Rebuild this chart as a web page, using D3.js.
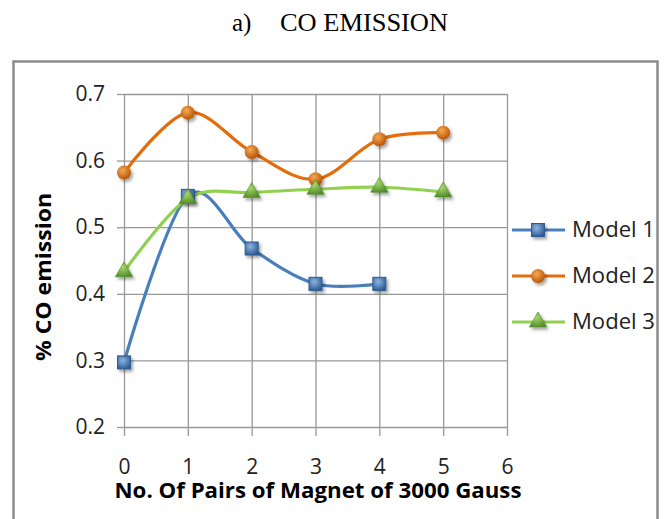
<!DOCTYPE html>
<html>
<head>
<meta charset="utf-8">
<script src="https://cdn.jsdelivr.net/npm/d3@7"></script>
<style>
  body { margin: 0; background: #fff; }
  svg { display: block; }
</style>
</head>
<body>
<div id="chart"></div>
<script>
// values
const pairs = [0, 1, 2, 3, 4, 5];
const xTicks = [0, 1, 2, 3, 4, 5, 6];
const yTicks = [0.2, 0.3, 0.4, 0.5, 0.6, 0.7];
const seriesNames = ["Model 1", "Model 2", "Model 3"];
const model1 = [0.297, 0.547, 0.468, 0.415, 0.415];
const model2 = [0.582, 0.672, 0.613, 0.572, 0.632, 0.642];
const model3 = [0.433, 0.543, 0.552, 0.557, 0.560, 0.553];

const W = 668, H = 519;
const plot = { left: 124, right: 507, top: 94, bottom: 427 };

const svg = d3.select("#chart").append("svg").attr("width", W).attr("height", H);
const defs = svg.append("defs");

defs.append("filter").attr("id", "shadow")
  .attr("x", "-50%").attr("y", "-50%").attr("width", "200%").attr("height", "200%")
  .append("feDropShadow")
  .attr("dx", 2).attr("dy", 2.5).attr("stdDeviation", 1.6)
  .attr("flood-color", "#000").attr("flood-opacity", 0.35);

const series = [
  { name: seriesNames[0], values: model1, color: "#4a7ebb", light: "#8db4e2", dark: "#2c5a91", shape: "square" },
  { name: seriesNames[1], values: model2, color: "#e46c0a", light: "#f8a954", dark: "#b34f00", shape: "circle" },
  { name: seriesNames[2], values: model3, color: "#92d050", light: "#a9d86e", dark: "#4f8a2a", shape: "triangle" }
];

series.forEach((s, i) => {
  const g = defs.append("radialGradient").attr("id", "grad" + i)
    .attr("cx", "40%").attr("cy", "35%").attr("r", "70%");
  g.append("stop").attr("offset", "0%").attr("stop-color", s.light);
  g.append("stop").attr("offset", "100%").attr("stop-color", s.dark);
});

// outer frame
svg.append("rect")
  .attr("x", 13.5).attr("y", 61.5).attr("width", 644).attr("height", 480)
  .attr("fill", "none").attr("stroke", "#8c8c8c").attr("stroke-width", 2.5);

// title
svg.append("text")
  .attr("x", 232).attr("y", 31)
  .attr("font-family", "Liberation Serif, Times New Roman, serif")
  .attr("font-size", "25px").attr("fill", "#000")
  .text("a)");
svg.append("text")
  .attr("x", 280).attr("y", 31)
  .attr("font-family", "Liberation Serif, Times New Roman, serif")
  .attr("font-size", "25px").attr("fill", "#000")
  .attr("textLength", 168).attr("lengthAdjust", "spacingAndGlyphs")
  .text("CO EMISSION");

const x = d3.scaleLinear().domain([0, 6]).range([plot.left, plot.right]);
const y = d3.scaleLinear().domain([0.2, 0.7]).range([plot.bottom, plot.top]);

const chart = svg.append("g");

// gridlines
chart.append("g")
  .attr("class", "grid")
  .attr("transform", `translate(${plot.left},0)`)
  .call(d3.axisLeft(y).tickValues(yTicks).tickSize(-(plot.right - plot.left)).tickFormat(""))
  .call(g => g.select(".domain").remove());
chart.append("g")
  .attr("class", "grid")
  .attr("transform", `translate(0,${plot.top})`)
  .call(d3.axisBottom(x).tickValues(xTicks).tickSize(plot.bottom - plot.top).tickFormat(""))
  .call(g => g.select(".domain").remove());

// axes with tick marks and labels
chart.append("g")
  .attr("class", "axis")
  .attr("transform", `translate(${plot.left},0)`)
  .call(d3.axisLeft(y).tickValues(yTicks).tickSize(7).tickPadding(12).tickFormat(d3.format(".1f")))
  .call(g => g.select(".domain").remove());
chart.append("g")
  .attr("class", "axis")
  .attr("transform", `translate(0,${plot.bottom})`)
  .call(d3.axisBottom(x).tickValues(xTicks).tickSize(9).tickPadding(23).tickFormat(d3.format("d")))
  .call(g => g.select(".domain").remove());

svg.selectAll(".grid line, .axis line").attr("stroke", "#999").attr("stroke-width", 1.3);
svg.selectAll(".axis text")
  .attr("font-family", "Open Sans, sans-serif")
  .attr("font-size", "21px")
  .attr("fill", "#222");

// axis titles
svg.append("text")
  .attr("x", 318).attr("y", 498)
  .attr("text-anchor", "middle")
  .attr("font-family", "Open Sans, sans-serif")
  .attr("font-weight", "bold")
  .attr("font-size", "22px")
  .attr("textLength", 407).attr("lengthAdjust", "spacingAndGlyphs")
  .attr("fill", "#000")
  .text("No. Of Pairs of Magnet of 3000 Gauss");

svg.append("text")
  .attr("transform", "translate(51,277) rotate(-90)")
  .attr("text-anchor", "middle")
  .attr("font-family", "Open Sans, sans-serif")
  .attr("font-weight", "bold")
  .attr("font-size", "22px")
  .attr("textLength", 168).attr("lengthAdjust", "spacingAndGlyphs")
  .attr("fill", "#000")
  .text("% CO emission");

function drawMarker(sel, s, i) {
  if (s.shape === "square") {
    sel.append("rect").attr("x", -6.5).attr("y", -6.5).attr("width", 13).attr("height", 13)
      .attr("fill", `url(#grad${i})`).attr("stroke", s.dark).attr("stroke-width", 1);
  } else if (s.shape === "circle") {
    sel.append("circle").attr("r", 7).attr("fill", `url(#grad${i})`);
  } else {
    sel.append("path").attr("d", d3.symbol(d3.symbolTriangle, 130)())
      .attr("fill", `url(#grad${i})`).attr("stroke", s.dark).attr("stroke-width", 0.6);
  }
}

const line = d3.line()
  .x((d, j) => x(pairs[j]))
  .y(d => y(d))
  .curve(d3.curveCardinal.tension(0));

series.forEach((s, i) => {
  chart.append("path")
    .datum(s.values)
    .attr("d", line)
    .attr("fill", "none")
    .attr("stroke", s.color)
    .attr("stroke-width", 3.2)
    .attr("stroke-linecap", "round");
});

series.forEach((s, i) => {
  chart.selectAll(null)
    .data(s.values)
    .enter()
    .append("g")
    .attr("transform", (d, j) => `translate(${x(pairs[j])},${y(d)})`)
    .attr("filter", "url(#shadow)")
    .each(function () { drawMarker(d3.select(this), s, i); });
});

// legend
const legend = svg.append("g").attr("transform", "translate(512,230)");
series.forEach((s, i) => {
  const row = legend.append("g").attr("transform", `translate(0,${i * 46})`);
  row.append("line").attr("x1", 0).attr("x2", 53).attr("y1", 0).attr("y2", 0)
    .attr("stroke", s.color).attr("stroke-width", 3.2);
  const m = row.append("g").attr("transform", "translate(26,0)").attr("filter", "url(#shadow)");
  drawMarker(m, s, i);
  row.append("text")
    .attr("x", 60).attr("y", 0).attr("dy", "0.35em")
    .attr("font-family", "Open Sans, sans-serif")
    .attr("font-size", "21px")
    .attr("fill", "#222")
    .attr("textLength", 83).attr("lengthAdjust", "spacingAndGlyphs")
    .text(s.name);
});
</script>
</body>
</html>
